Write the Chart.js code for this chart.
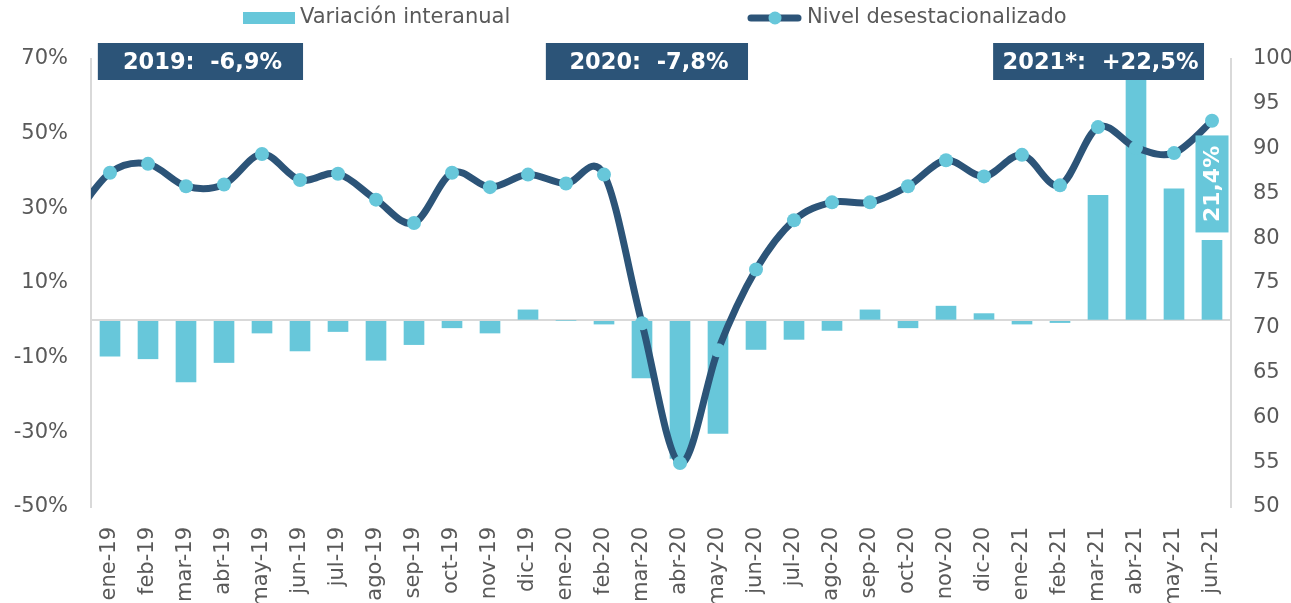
<!DOCTYPE html>
<html>
<head>
<meta charset="utf-8">
<script src="https://cdn.jsdelivr.net/npm/chart.js@4/dist/chart.umd.min.js"></script>
<style>
  html, body { margin: 0; padding: 0; background: #fff; }
  #wrap { width: 1291px; height: 603px; }
</style>
</head>
<body>
<div id="wrap"><canvas id="chart" width="1291" height="603"></canvas></div>
<script>
const meses = [
  "ene-19", "feb-19", "mar-19", "abr-19", "may-19", "jun-19", "jul-19", "ago-19", "sep-19", "oct-19", "nov-19", "dic-19",
  "ene-20", "feb-20", "mar-20", "abr-20", "may-20", "jun-20", "jul-20", "ago-20", "sep-20", "oct-20", "nov-20", "dic-20",
  "ene-21", "feb-21", "mar-21", "abr-21", "may-21", "jun-21"
];

// variación interanual, %
const variacion = [
  -9.6, -10.3, -16.5, -11.3, -3.4, -8.2, -3.0, -10.7, -6.5, -2.0, -3.4, 2.8,
  0.0, -1.0, -15.4, -37.0, -30.3, -7.8, -5.1, -2.7, 2.8, -2.0, 3.8, 1.8,
  -1.0, -0.6, 33.5, 77.0, 35.2, 21.4
];

// nivel desestacionalizado (dic-18 only feeds the start of the curve)
const nivelDic18 = 82.0;
const nivel = [
  87.3, 88.3, 85.8, 86.0, 89.4, 86.5, 87.2, 84.3, 81.7, 87.3, 85.7, 87.1,
  86.1, 87.1, 70.5, 54.9, 67.5, 76.5, 82.0, 84.0, 84.0, 85.8, 88.7, 86.9,
  89.3, 85.9, 92.4, 90.1, 89.5, 93.1
];

const leftTicks = [-50, -30, -10, 10, 30, 50, 70];

const anuales = [
  { text: "2019:  -6,9%", from: -0.32, to: 5.08 },
  { text: "2020:  -7,8%", from: 11.47, to: 16.79 },
  { text: "2021*:  +22,5%", from: 23.24, to: 28.79 }
];

const CELESTE = "#67C7DA";
const AZUL = "#2C5478";
const GRIS = "#595959";
const EJE = "#D9D9D9";
const FONT = "'DejaVu Sans', Verdana, sans-serif";

const puntosNivel = [{ x: -1, y: nivelDic18 }].concat(nivel.map((v, i) => ({ x: i, y: v })));

//========================================================================
// Excel-style smoothing: uniform Catmull-Rom control points
const suavizado = {
  id: "suavizado",
  beforeDatasetDraw(chart, args) {
    if (args.meta.type !== "line") {
      return;
    }
    const pts = args.meta.data;
    const k = 1 / 6;
    for (let i = 0; i < pts.length; i++) {
      const p = pts[i];
      const a = pts[i - 1] || p;
      const b = pts[i + 1] || p;
      const tx = (b.x - a.x) * k;
      const ty = (b.y - a.y) * k;
      p.cp1x = p.x - tx;
      p.cp1y = p.y - ty;
      p.cp2x = p.x + tx;
      p.cp2y = p.y + ty;
    }
    args.meta.dataset._pointsUpdated = true;
  }
};

//========================================================================
const extras = {
  id: "extras",
  afterDatasetsDraw(chart) {
    const ctx = chart.ctx;
    const x = chart.scales.x;
    const area = chart.chartArea;
    const step = (x.getPixelForValue(1) - x.getPixelForValue(0));
    const x0 = x.getPixelForValue(0);

    ctx.save();
    // cajas de variación anual
    ctx.font = "bold 22.5px " + FONT;
    ctx.textAlign = "center";
    ctx.textBaseline = "middle";
    anuales.forEach(a => {
      const l = x0 + a.from * step;
      const r = x0 + a.to * step;
      ctx.fillStyle = AZUL;
      ctx.fillRect(l, area.top - 16, r - l, 37);
      ctx.fillStyle = "#fff";
      ctx.fillText(a.text, (l + r) / 2 + 2, area.top + 4);
    });

    // etiqueta del último dato
    const meta = chart.getDatasetMeta(0);
    const last = meta.data[meta.data.length - 1];
    const bw = 33, bh = 97;
    const by = last.y - 8 - bh;
    ctx.fillStyle = CELESTE;
    ctx.fillRect(last.x - bw / 2, by, bw, bh);
    ctx.translate(last.x, by + bh / 2);
    ctx.rotate(-Math.PI / 2);
    ctx.fillStyle = "#fff";
    ctx.font = "bold 22px " + FONT;
    ctx.fillText(variacion[variacion.length - 1].toFixed(1).replace(".", ",") + "%", 0, 1);
    ctx.restore();
  },
  afterDraw(chart) {
    const ctx = chart.ctx;
    ctx.save();
    ctx.font = "21px " + FONT;
    ctx.textBaseline = "middle";
    // leyenda: barras
    ctx.fillStyle = CELESTE;
    ctx.fillRect(243, 12, 52, 12);
    ctx.fillStyle = GRIS;
    ctx.fillText("Variación interanual", 300, 18);
    // leyenda: línea
    ctx.strokeStyle = AZUL;
    ctx.lineWidth = 7;
    ctx.lineCap = "round";
    ctx.beginPath();
    ctx.moveTo(751, 18);
    ctx.lineTo(798, 18);
    ctx.stroke();
    ctx.fillStyle = CELESTE;
    ctx.beginPath();
    ctx.arc(775, 18, 6.5, 0, Math.PI * 2);
    ctx.fill();
    ctx.fillStyle = GRIS;
    ctx.fillText("Nivel desestacionalizado", 807, 18);
    ctx.restore();
  }
};

new Chart(document.getElementById("chart"), {
  data: {
    labels: meses,
    datasets: [
      {
        type: "bar",
        label: "Variación interanual",
        data: variacion,
        backgroundColor: CELESTE,
        xAxisID: "x",
        yAxisID: "y",
        barThickness: 20,
        grouped: false,
        order: 1
      },
      {
        type: "line",
        label: "Nivel desestacionalizado",
        data: puntosNivel,
        borderColor: AZUL,
        borderWidth: 7,
        tension: 0.4,
        pointRadius: 7,
        pointBorderWidth: 0,
        pointBackgroundColor: CELESTE,
        pointBorderColor: CELESTE,
        xAxisID: "xl",
        yAxisID: "y2",
        clip: 0,
        order: 0
      }
    ]
  },
  options: {
    responsive: false,
    animation: false,
    events: [],
    layout: { padding: { top: 59, left: 0, right: 0, bottom: 0 } },
    plugins: {
      legend: { display: false },
      tooltip: { enabled: false }
    },
    scales: {
      x: {
        type: "category",
        offset: true,
        grid: { display: false },
        border: { display: false },
        ticks: {
          autoSkip: false,
          minRotation: 90,
          maxRotation: 90,
          padding: 12,
          color: GRIS,
          font: { family: FONT, size: 21 }
        },
        afterFit: s => { s.height = 96; }
      },
      xl: {
        type: "linear",
        display: false,
        offset: false,
        min: -0.5,
        max: meses.length - 0.5
      },
      y: {
        position: "left",
        min: -50,
        max: 70,
        afterBuildTicks: s => {
          s.ticks = leftTicks.concat([0]).sort((a, b) => a - b).map(v => ({ value: v }));
        },
        grid: {
          drawTicks: false,
          lineWidth: 2,
          color: c => (c.tick && c.tick.value === 0 ? EJE : "rgba(0,0,0,0)")
        },
        border: { display: true, color: EJE, width: 2 },
        ticks: {
          padding: 23,
          color: GRIS,
          font: { family: FONT, size: 21 },
          callback: v => (v === 0 ? "" : v + "%")
        },
        afterFit: s => { s.width = 91; }
      },
      y2: {
        position: "right",
        min: 50,
        max: 100,
        grid: { display: false, drawTicks: false },
        border: { display: true, color: EJE, width: 2 },
        ticks: {
          stepSize: 5,
          padding: 22,
          color: GRIS,
          font: { family: FONT, size: 21 }
        },
        afterFit: s => { s.width = 60; }
      }
    }
  },
  plugins: [suavizado, extras]
});
</script>
</body>
</html>
